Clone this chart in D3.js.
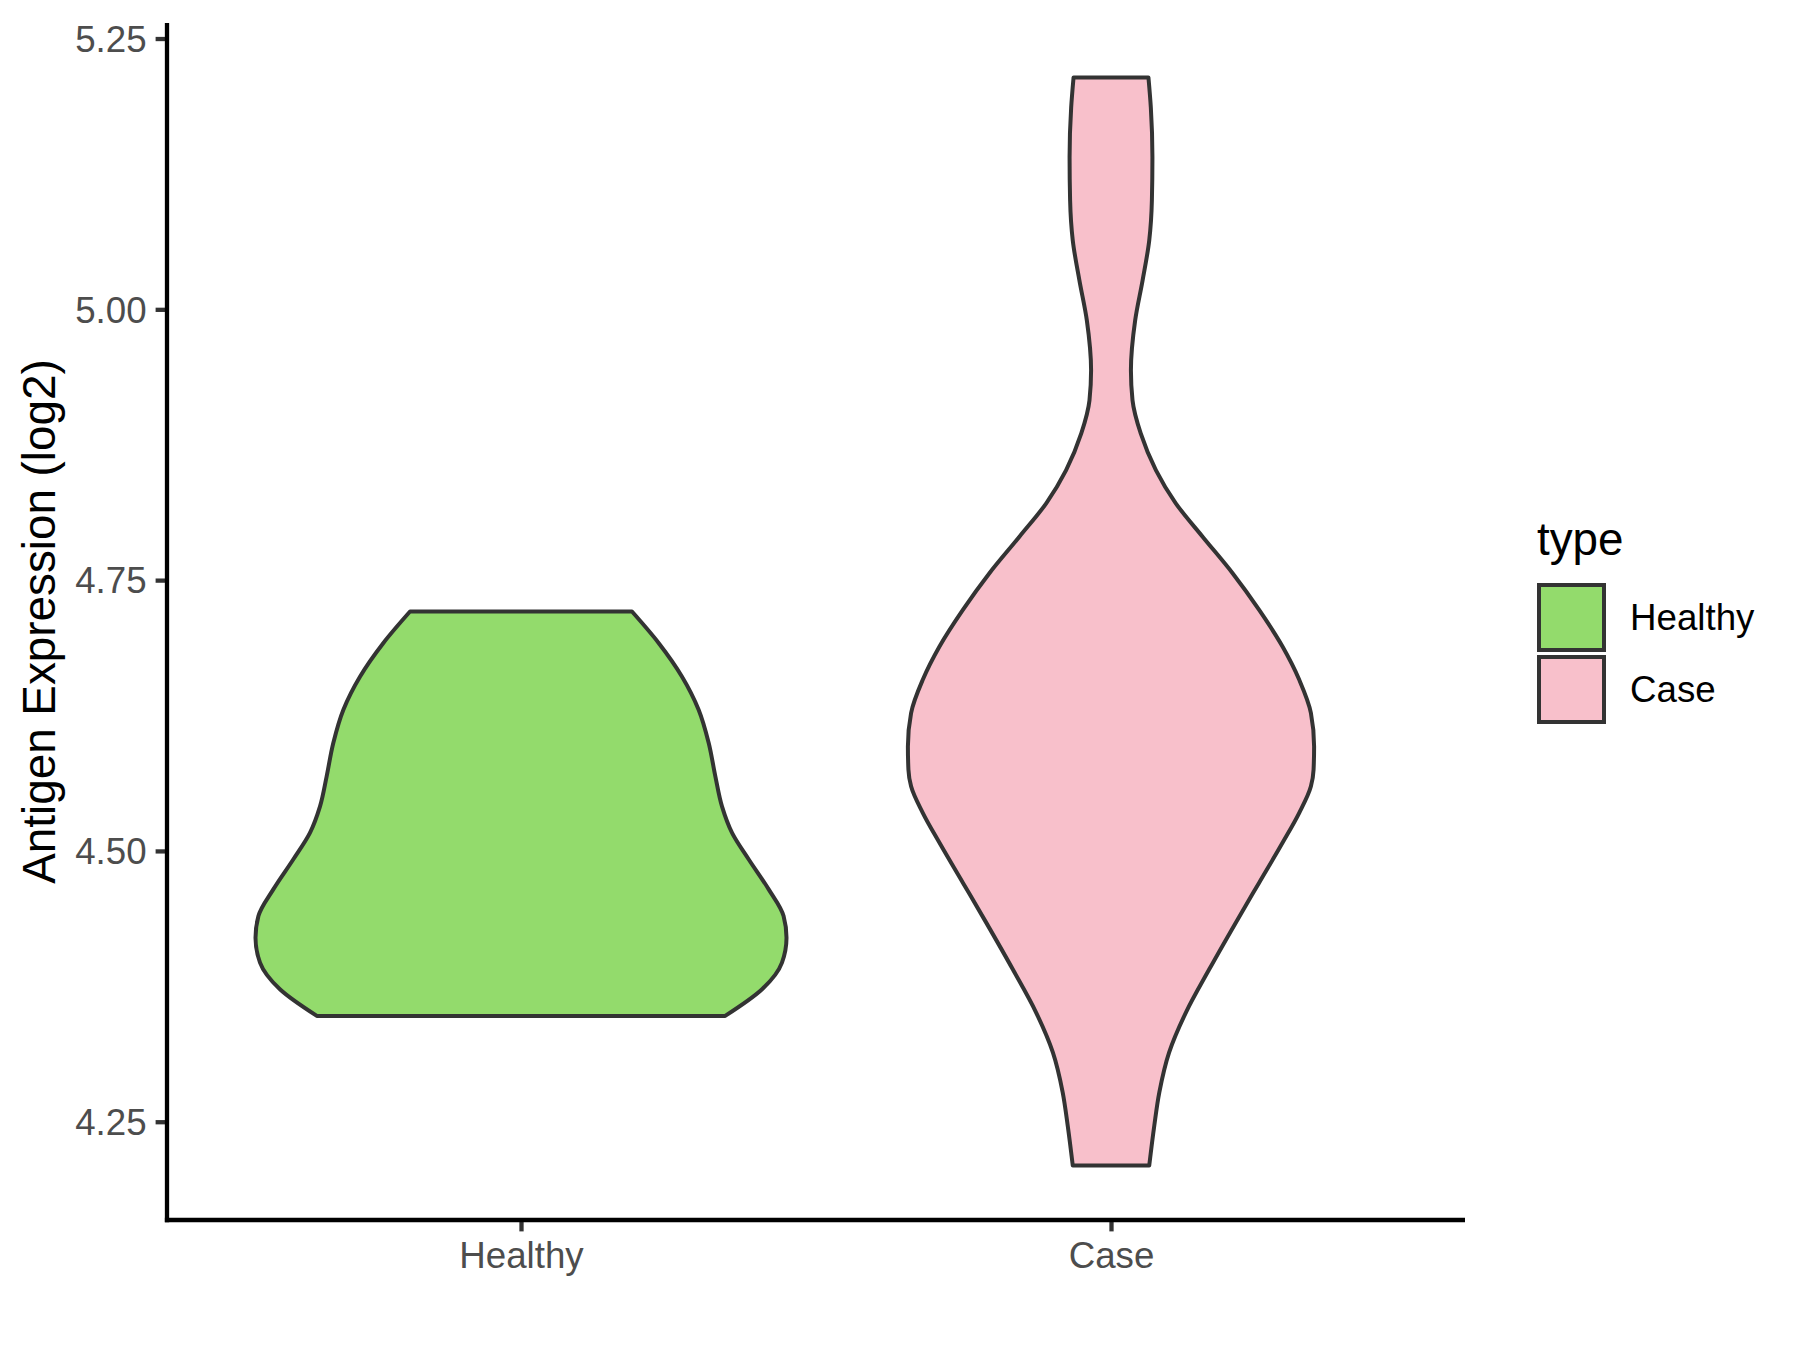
<!DOCTYPE html>
<html>
<head>
<meta charset="utf-8">
<script src="https://cdn.jsdelivr.net/npm/d3@7"></script>
<style>
  body { margin: 0; background: #fff; }
  svg text { font-family: "Liberation Sans", Arial, sans-serif; }
</style>
</head>
<body>
<div id="chart"></div>
<script>
(function (d3) {

    var categories = ['Healthy', 'Case'];
    var fills = ['#93DB6C', '#F8C0CB'];
    var yTicks = [4.25, 4.50, 4.75, 5.00, 5.25];

    // violin outlines: expression value and relative density (1 = widest)
    var healthyValues = [4.3477, 4.3723, 4.3969, 4.4199, 4.4399, 4.4645, 4.4921, 4.5167,
        4.5412, 4.5689, 4.5997, 4.6304, 4.6611, 4.6918, 4.7210];
    var healthyDensity = [0.769, 0.908, 0.983, 1.000, 0.989, 0.933, 0.858, 0.795,
        0.757, 0.732, 0.707, 0.669, 0.606, 0.519, 0.418];

    var caseValues = [4.2095, 4.2463, 4.2771, 4.3140, 4.3508, 4.3907, 4.4338, 4.4707,
        4.5075, 4.5352, 4.5597, 4.5751, 4.5965, 4.6273, 4.6580, 4.6887, 4.7225, 4.7564,
        4.7901, 4.8209, 4.8516, 4.8854, 4.9161, 4.9437, 4.9898, 5.0267, 5.0636, 5.1004,
        5.1403, 5.1864, 5.2141];
    var caseDensity = [0.144, 0.163, 0.182, 0.219, 0.282, 0.370, 0.470, 0.558,
        0.646, 0.709, 0.753, 0.763, 0.765, 0.753, 0.709, 0.646, 0.558, 0.458,
        0.345, 0.244, 0.169, 0.112, 0.081, 0.075, 0.091, 0.119, 0.144, 0.154,
        0.156, 0.150, 0.141];

    var series = [
        { name: 'Healthy', values: healthyValues, density: healthyDensity },
        { name: 'Case', values: caseValues, density: caseDensity }
    ];

    var width = 1800,
        height = 1350;

    var panel = { left: 167, right: 1465, top: 23, bottom: 1220 };

    var svg = d3.select('#chart')
        .append('svg')
        .attr('width', width)
        .attr('height', height);

    svg.append('rect')
        .attr('width', width)
        .attr('height', height)
        .attr('fill', '#fff');

    var xScale = d3.scalePoint()
        .domain(categories)
        .range([panel.left, panel.right])
        .padding(0.6);

    var allValues = healthyValues.concat(caseValues);
    var yMin = d3.min(allValues),
        yMax = d3.max(allValues),
        yPad = (yMax - yMin) * 0.05;

    var yScale = d3.scaleLinear()
        .domain([yMin - yPad, yMax + yPad])
        .range([panel.bottom, panel.top]);

    var wScale = d3.scaleLinear()
        .domain([0, 1])
        .range([0, xScale.step() * 0.45]);

    var colour = d3.scaleOrdinal().domain(categories).range(fills);

    // violins
    series.forEach(function (s) {
        var cx = xScale(s.name);
        var points = s.values.map(function (v, i) {
            return { value: v, density: s.density[i] };
        });
        var area = d3.area()
            .curve(d3.curveMonotoneY)
            .y(function (d) { return yScale(d.value); })
            .x0(function (d) { return cx - wScale(d.density); })
            .x1(function (d) { return cx + wScale(d.density); });

        svg.append('path')
            .attr('d', area(points))
            .attr('fill', colour(s.name))
            .attr('stroke', '#333333')
            .attr('stroke-width', 4)
            .attr('stroke-linejoin', 'round');
    });

    // axes
    var yAxis = d3.axisLeft(yScale)
        .tickValues(yTicks)
        .tickSizeInner(11.4)
        .tickSizeOuter(0)
        .tickPadding(9)
        .tickFormat(d3.format('.2f'));

    var xAxis = d3.axisBottom(xScale)
        .tickSizeInner(11.4)
        .tickSizeOuter(0)
        .tickPadding(9);

    var gy = svg.append('g')
        .attr('transform', 'translate(' + panel.left + ',0)')
        .call(yAxis);

    var gx = svg.append('g')
        .attr('transform', 'translate(0,' + panel.bottom + ')')
        .call(xAxis);

    [gx, gy].forEach(function (g) {
        g.select('.domain').remove();
        g.selectAll('.tick line')
            .attr('stroke', '#333333')
            .attr('stroke-width', 4.3);
        g.selectAll('.tick text')
            .attr('fill', '#4D4D4D')
            .style('font-size', '36.7px')
            .style('font-family', '"Liberation Sans", Arial, sans-serif');
    });

    gy.selectAll('.tick text').attr('dy', '0.35em');
    gx.selectAll('.tick text').attr('dy', '0').attr('y', 48);

    svg.append('line')
        .attr('x1', panel.left).attr('x2', panel.left)
        .attr('y1', panel.top).attr('y2', panel.bottom + 2.15)
        .attr('stroke', '#000').attr('stroke-width', 4.3);

    svg.append('line')
        .attr('x1', panel.left - 2.15).attr('x2', panel.right)
        .attr('y1', panel.bottom).attr('y2', panel.bottom)
        .attr('stroke', '#000').attr('stroke-width', 4.3);

    svg.append('text')
        .attr('transform', 'translate(55,' + (panel.top + panel.bottom) / 2 + ') rotate(-90)')
        .attr('text-anchor', 'middle')
        .style('font-size', '45.8px')
        .attr('fill', '#000')
        .text('Antigen Expression (log2)');

    // legend
    var legend = svg.append('g').attr('transform', 'translate(1535.5,581.5)');

    legend.append('text')
        .attr('x', 1.5)
        .attr('y', -26.5)
        .style('font-size', '45.8px')
        .attr('fill', '#000')
        .text('type');

    categories.forEach(function (c, i) {
        legend.append('rect')
            .attr('x', 3.5)
            .attr('y', i * 72 + 3.5)
            .attr('width', 65)
            .attr('height', 65)
            .attr('fill', colour(c))
            .attr('stroke', '#333333')
            .attr('stroke-width', 4);

        legend.append('text')
            .attr('x', 94.5)
            .attr('y', i * 72 + 36)
            .attr('dy', '0.35em')
            .style('font-size', '36.7px')
            .attr('fill', '#000')
            .text(c);
    });

})(d3);
</script>
</body>
</html>
